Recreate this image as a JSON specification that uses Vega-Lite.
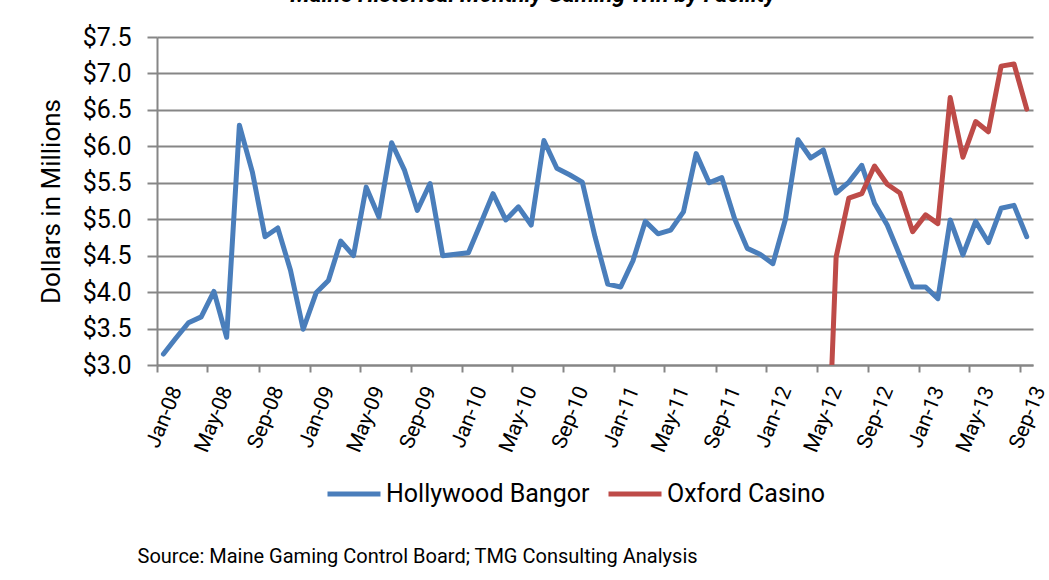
{
  "$schema": "https://vega.github.io/schema/vega-lite/v6.json",
  "autosize": "none",
  "width": 876,
  "height": 328,
  "padding": {"left": 157, "top": 37, "right": 16, "bottom": 215},
  "background": "white",
  "config": {
    "view": {"stroke": null},
    "font": "Roboto"
  },
  "title": {
    "text": "Maine Historical Monthly Gaming Win by Facility",
    "font": "Roboto",
    "fontSize": 23,
    "fontWeight": "bold",
    "fontStyle": "italic",
    "color": "#000000",
    "anchor": "middle",
    "frame": "group",
    "dx": -62,
    "baseline": "alphabetic",
    "offset": 0
  },
  "data": {
    "values": [
      {"month": "2008-01", "facility": "Hollywood Bangor", "win": 3.15},
      {"month": "2008-02", "facility": "Hollywood Bangor", "win": 3.37},
      {"month": "2008-03", "facility": "Hollywood Bangor", "win": 3.58},
      {"month": "2008-04", "facility": "Hollywood Bangor", "win": 3.66},
      {"month": "2008-05", "facility": "Hollywood Bangor", "win": 4.01},
      {"month": "2008-06", "facility": "Hollywood Bangor", "win": 3.38},
      {"month": "2008-07", "facility": "Hollywood Bangor", "win": 6.29},
      {"month": "2008-08", "facility": "Hollywood Bangor", "win": 5.65},
      {"month": "2008-09", "facility": "Hollywood Bangor", "win": 4.76},
      {"month": "2008-10", "facility": "Hollywood Bangor", "win": 4.88},
      {"month": "2008-11", "facility": "Hollywood Bangor", "win": 4.30},
      {"month": "2008-12", "facility": "Hollywood Bangor", "win": 3.49},
      {"month": "2009-01", "facility": "Hollywood Bangor", "win": 3.99},
      {"month": "2009-02", "facility": "Hollywood Bangor", "win": 4.16},
      {"month": "2009-03", "facility": "Hollywood Bangor", "win": 4.70},
      {"month": "2009-04", "facility": "Hollywood Bangor", "win": 4.50},
      {"month": "2009-05", "facility": "Hollywood Bangor", "win": 5.44},
      {"month": "2009-06", "facility": "Hollywood Bangor", "win": 5.03},
      {"month": "2009-07", "facility": "Hollywood Bangor", "win": 6.05},
      {"month": "2009-08", "facility": "Hollywood Bangor", "win": 5.67},
      {"month": "2009-09", "facility": "Hollywood Bangor", "win": 5.12},
      {"month": "2009-10", "facility": "Hollywood Bangor", "win": 5.49},
      {"month": "2009-11", "facility": "Hollywood Bangor", "win": 4.50},
      {"month": "2009-12", "facility": "Hollywood Bangor", "win": 4.52},
      {"month": "2010-01", "facility": "Hollywood Bangor", "win": 4.54},
      {"month": "2010-02", "facility": "Hollywood Bangor", "win": 4.94},
      {"month": "2010-03", "facility": "Hollywood Bangor", "win": 5.35},
      {"month": "2010-04", "facility": "Hollywood Bangor", "win": 4.99},
      {"month": "2010-05", "facility": "Hollywood Bangor", "win": 5.17},
      {"month": "2010-06", "facility": "Hollywood Bangor", "win": 4.92},
      {"month": "2010-07", "facility": "Hollywood Bangor", "win": 6.08},
      {"month": "2010-08", "facility": "Hollywood Bangor", "win": 5.70},
      {"month": "2010-09", "facility": "Hollywood Bangor", "win": 5.61},
      {"month": "2010-10", "facility": "Hollywood Bangor", "win": 5.51},
      {"month": "2010-11", "facility": "Hollywood Bangor", "win": 4.76},
      {"month": "2010-12", "facility": "Hollywood Bangor", "win": 4.11},
      {"month": "2011-01", "facility": "Hollywood Bangor", "win": 4.07},
      {"month": "2011-02", "facility": "Hollywood Bangor", "win": 4.43},
      {"month": "2011-03", "facility": "Hollywood Bangor", "win": 4.97},
      {"month": "2011-04", "facility": "Hollywood Bangor", "win": 4.80},
      {"month": "2011-05", "facility": "Hollywood Bangor", "win": 4.85},
      {"month": "2011-06", "facility": "Hollywood Bangor", "win": 5.10},
      {"month": "2011-07", "facility": "Hollywood Bangor", "win": 5.90},
      {"month": "2011-08", "facility": "Hollywood Bangor", "win": 5.50},
      {"month": "2011-09", "facility": "Hollywood Bangor", "win": 5.57},
      {"month": "2011-10", "facility": "Hollywood Bangor", "win": 5.01},
      {"month": "2011-11", "facility": "Hollywood Bangor", "win": 4.60},
      {"month": "2011-12", "facility": "Hollywood Bangor", "win": 4.52},
      {"month": "2012-01", "facility": "Hollywood Bangor", "win": 4.39},
      {"month": "2012-02", "facility": "Hollywood Bangor", "win": 5.00},
      {"month": "2012-03", "facility": "Hollywood Bangor", "win": 6.09},
      {"month": "2012-04", "facility": "Hollywood Bangor", "win": 5.84},
      {"month": "2012-05", "facility": "Hollywood Bangor", "win": 5.95},
      {"month": "2012-06", "facility": "Hollywood Bangor", "win": 5.36},
      {"month": "2012-07", "facility": "Hollywood Bangor", "win": 5.51},
      {"month": "2012-08", "facility": "Hollywood Bangor", "win": 5.74},
      {"month": "2012-09", "facility": "Hollywood Bangor", "win": 5.22},
      {"month": "2012-10", "facility": "Hollywood Bangor", "win": 4.92},
      {"month": "2012-11", "facility": "Hollywood Bangor", "win": 4.50},
      {"month": "2012-12", "facility": "Hollywood Bangor", "win": 4.07},
      {"month": "2013-01", "facility": "Hollywood Bangor", "win": 4.07},
      {"month": "2013-02", "facility": "Hollywood Bangor", "win": 3.91},
      {"month": "2013-03", "facility": "Hollywood Bangor", "win": 4.99},
      {"month": "2013-04", "facility": "Hollywood Bangor", "win": 4.51},
      {"month": "2013-05", "facility": "Hollywood Bangor", "win": 4.97},
      {"month": "2013-06", "facility": "Hollywood Bangor", "win": 4.68},
      {"month": "2013-07", "facility": "Hollywood Bangor", "win": 5.15},
      {"month": "2013-08", "facility": "Hollywood Bangor", "win": 5.19},
      {"month": "2013-09", "facility": "Hollywood Bangor", "win": 4.76},
      {"month": "2012-05", "facility": "Oxford Casino", "win": 0},
      {"month": "2012-06", "facility": "Oxford Casino", "win": 4.48},
      {"month": "2012-07", "facility": "Oxford Casino", "win": 5.29},
      {"month": "2012-08", "facility": "Oxford Casino", "win": 5.35},
      {"month": "2012-09", "facility": "Oxford Casino", "win": 5.73},
      {"month": "2012-10", "facility": "Oxford Casino", "win": 5.48},
      {"month": "2012-11", "facility": "Oxford Casino", "win": 5.36},
      {"month": "2012-12", "facility": "Oxford Casino", "win": 4.83},
      {"month": "2013-01", "facility": "Oxford Casino", "win": 5.06},
      {"month": "2013-02", "facility": "Oxford Casino", "win": 4.94},
      {"month": "2013-03", "facility": "Oxford Casino", "win": 6.67},
      {"month": "2013-04", "facility": "Oxford Casino", "win": 5.85},
      {"month": "2013-05", "facility": "Oxford Casino", "win": 6.34},
      {"month": "2013-06", "facility": "Oxford Casino", "win": 6.20},
      {"month": "2013-07", "facility": "Oxford Casino", "win": 7.10},
      {"month": "2013-08", "facility": "Oxford Casino", "win": 7.13},
      {"month": "2013-09", "facility": "Oxford Casino", "win": 6.51}
    ]
  },
  "mark": {"type": "line", "strokeWidth": 5, "strokeJoin": "round", "strokeCap": "round", "clip": true},
  "encoding": {
    "x": {
      "field": "month",
      "timeUnit": "utcyearmonth",
      "type": "temporal",
      "bandPosition": 0.5,
      "scale": {"domain": [{"year": 2008, "month": 1, "date": 1, "utc": true}, {"year": 2013, "month": 10, "date": 1, "utc": true}]},
      "axis": {
        "title": "Source: Maine Gaming Control Board; TMG Consulting Analysis",
        "titleFont": "Roboto",
        "titleFontSize": 20,
        "titleFontWeight": "normal",
        "titleColor": "#000000",
        "titleAnchor": "start",
        "titleAlign": "left",
        "titleBaseline": "alphabetic",
        "titleX": -20,
        "titleY": 197,
        "format": "%b-%y",
        "tickCount": {"interval": "month", "step": 4},
        "grid": false,
        "domainColor": "#868686",
        "domainWidth": 2,
        "tickColor": "#868686",
        "tickWidth": 2,
        "tickSize": 7,
        "labelAngle": -68,
        "labelAlign": "right",
        "labelBaseline": "top",
        "labelOffset": 9,
        "labelPadding": 11,
        "labelFont": "Roboto",
        "labelFontSize": 21,
        "labelColor": "#000000",
        "labelOverlap": false,
        "labelFlush": false,
        "labelBound": false
      }
    },
    "y": {
      "field": "win",
      "type": "quantitative",
      "scale": {"domain": [3, 7.5], "nice": false, "zero": false},
      "axis": {
        "title": "Dollars in Millions",
        "titleFont": "Roboto",
        "titleFontSize": 26,
        "titleFontWeight": "normal",
        "titleColor": "#000000",
        "titlePadding": 18,
        "values": [3, 3.5, 4, 4.5, 5, 5.5, 6, 6.5, 7, 7.5],
        "format": "$.1f",
        "labelFont": "Roboto",
        "labelFontSize": 25,
        "labelColor": "#000000",
        "labelPadding": 16,
        "tickSize": 10,
        "tickColor": "#868686",
        "tickWidth": 2,
        "domainColor": "#868686",
        "domainWidth": 2,
        "gridColor": "#868686",
        "gridWidth": 2,
        "gridOpacity": 1
      }
    },
    "color": {
      "field": "facility",
      "type": "nominal",
      "scale": {"domain": ["Hollywood Bangor", "Oxford Casino"], "range": ["#4a7ebb", "#be4b48"]},
      "legend": {
        "title": null,
        "orient": "none",
        "legendX": 168,
        "legendY": 428,
        "direction": "horizontal",
        "symbolType": "stroke",
        "symbolStrokeWidth": 5,
        "symbolSize": 2809,
        "labelFont": "Roboto",
        "labelFontSize": 25,
        "labelColor": "#000000",
        "labelOffset": 3,
        "labelLimit": 400,
        "columnPadding": 8
      }
    }
  }
}
